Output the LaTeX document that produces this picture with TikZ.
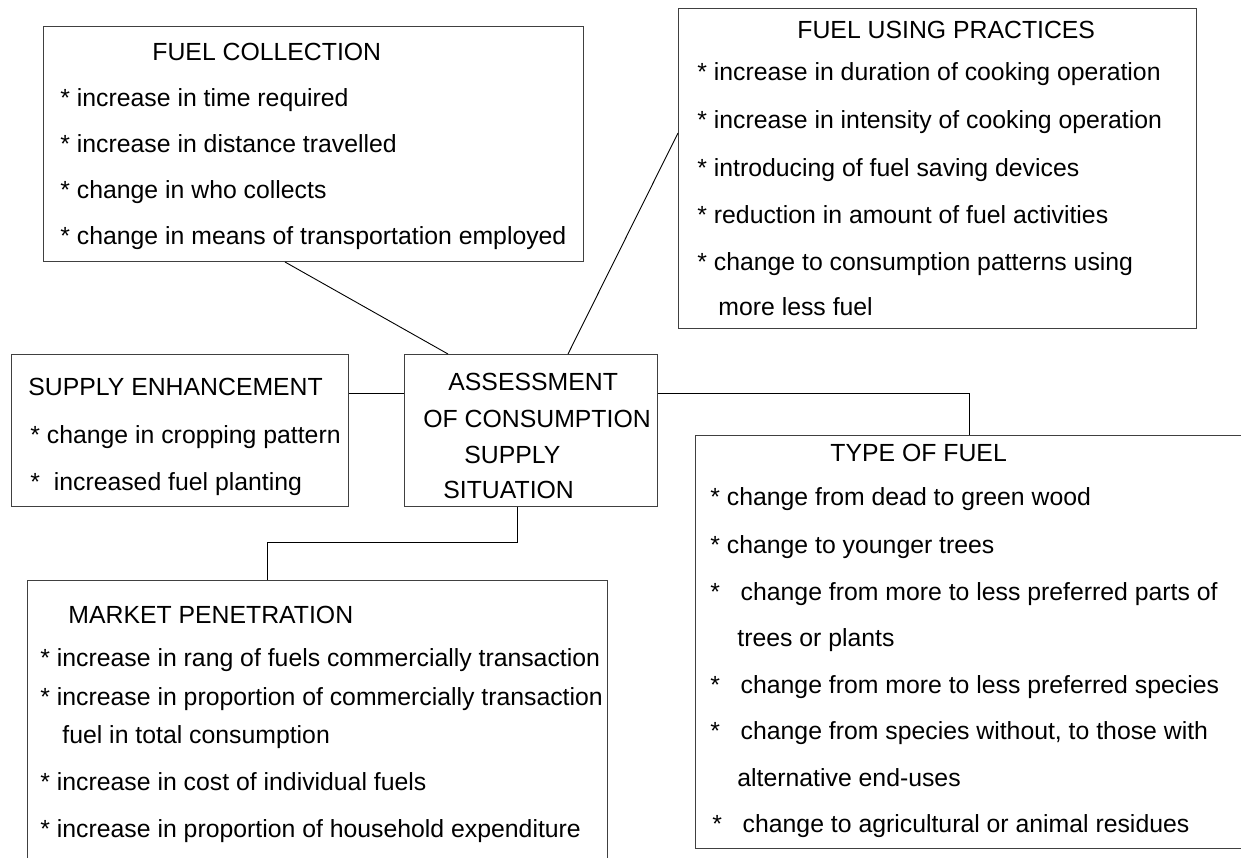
\documentclass[tikz,border=0pt]{standalone}
\usepackage{fontspec}
\setmainfont{Liberation Sans}
\usetikzlibrary{positioning}

\begin{document}
\begin{tikzpicture}[x=0.5pt,y=-0.5pt]
        \tikzstyle{box}=[draw=black!75,line width=0.5pt,rectangle,anchor=north west,inner sep=0pt]
        \tikzstyle{txt}=[anchor=base west,inner sep=0pt,font=\fontsize{12.4}{14}\selectfont]
        \tikzstyle{link}=[draw=black,line width=0.45pt]
        \useasboundingbox (0,0) rectangle (1241,857);
        \clip (0,0) rectangle (1241,857);

        % the boxes
        \node[box,minimum width=270pt,minimum height=117.5pt] (coll) at (43,26) {};
        \node[box,minimum width=259pt,minimum height=160pt] (usep) at (678,8) {};
        \node[box,minimum width=168.5pt,minimum height=76pt] (supply) at (11,354) {};
        \node[box,minimum width=126.5pt,minimum height=76pt] (asmt) at (404,354) {};
        \node[box,minimum width=274pt,minimum height=206.5pt] (fueltype) at (695,435) {};
        \node[box,minimum width=290pt,minimum height=170pt] (market) at (27,580) {};

        % fuel collection
        \node[txt] (coll-t) at (152,60) {FUEL COLLECTION};
        \node[txt] (coll-1) at (60,106) {* increase in time required};
        \node[txt] (coll-2) at (60,152) {* increase in distance travelled};
        \node[txt] (coll-3) at (60,198) {* change in who collects};
        \node[txt] (coll-4) at (60,244) {* change in means of transportation employed};

        % fuel using practices
        \node[txt] (usep-t) at (797,38) {FUEL USING PRACTICES};
        \node[txt] (usep-1) at (697,80) {* increase in duration of cooking operation};
        \node[txt] (usep-2) at (697,128) {* increase in intensity of cooking operation};
        \node[txt] (usep-3) at (697,176) {* introducing of fuel saving devices};
        \node[txt] (usep-4) at (697,223) {* reduction in amount of fuel activities};
        \node[txt] (usep-5) at (697,270) {* change to consumption patterns using};
        \node[txt] (usep-6) at (718,315) {more less fuel};

        % supply enhancement
        \node[txt] (supply-t) at (28,395) {SUPPLY ENHANCEMENT};
        \node[txt] (supply-1) at (30,443) {* change in cropping pattern};
        \node[txt] (supply-2) at (30,490) {*\ \ increased fuel planting};

        % centre box
        \node[txt] (asmt-1) at (448,390) {ASSESSMENT};
        \node[txt] (asmt-2) at (423,427) {OF CONSUMPTION};
        \node[txt] (asmt-3) at (464,463) {SUPPLY};
        \node[txt] (asmt-4) at (443,498) {SITUATION};

        % type of fuel
        \node[txt] (fueltype-t) at (830,461) {TYPE OF FUEL};
        \node[txt] (fueltype-1) at (710,505) {* change from dead to green wood};
        \node[txt] (fueltype-2) at (710,553) {* change to younger trees};
        \node[txt] (fueltype-3) at (710,600) {*\ \ \ change from more to less preferred parts of};
        \node[txt] (fueltype-4) at (737,646) {trees or plants};
        \node[txt] (fueltype-5) at (710,693) {*\ \ \ change from more to less preferred species};
        \node[txt] (fueltype-6) at (710,739) {*\ \ \ change from species without, to those with};
        \node[txt] (fueltype-7) at (737,786) {alternative end-uses};
        \node[txt] (fueltype-8) at (712,832) {*\ \ \ change to agricultural or animal residues};

        % market penetration
        \node[txt] (market-t) at (68,623) {MARKET PENETRATION};
        \node[txt] (market-1) at (40,666) {* increase in rang of fuels commercially transaction};
        \node[txt] (market-2) at (40,705) {* increase in proportion of commercially transaction};
        \node[txt] (market-3) at (62,743) {fuel in total consumption};
        \node[txt] (market-4) at (40,790) {* increase in cost of individual fuels};
        \node[txt] (market-5) at (40,837) {* increase in proportion of household expenditure};

        % links to the centre box
        \draw[link] ([xshift=121pt]coll.south west) -- ([xshift=22pt]asmt.north west);
        \draw[link] ([xshift=82pt]asmt.north west) -- ([yshift=-62.5pt]usep.north west);
        \draw[link] ([yshift=-19.5pt]supply.north east) -- ([yshift=-19.5pt]asmt.north west);
        \draw[link] ([yshift=-19.5pt]asmt.north east) -| (fueltype.north);
        \draw[link] ([xshift=56.5pt]asmt.south west) -- ++(0,35) -| ([xshift=120pt]market.north west);
\end{tikzpicture}
\end{document}
